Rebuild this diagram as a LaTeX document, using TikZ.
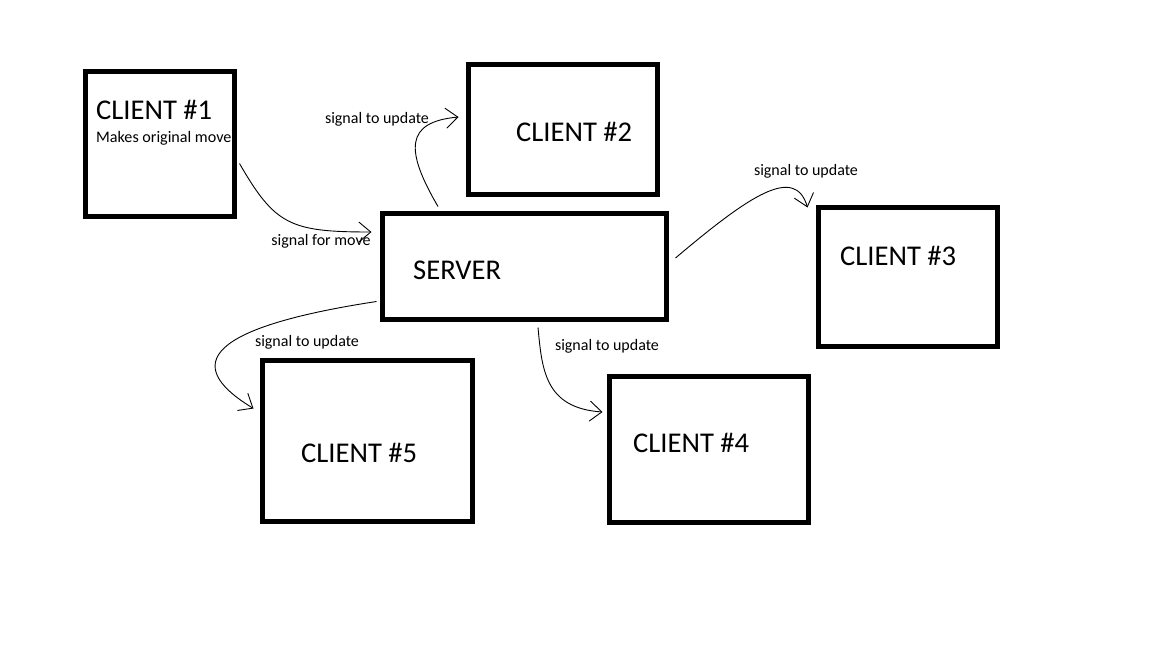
\documentclass[tikz,border=0pt]{standalone}
\usepackage{fontspec}
\setmainfont{Carlito}
\usetikzlibrary{arrows.meta, calc}

\begin{document}
\begin{tikzpicture}[x=1pt, y=-1pt,
        box/.style={draw, line width=5pt, inner sep=0pt},
        big/.style={anchor=base west, inner sep=0pt, font=\fontsize{28.6}{30}\selectfont},
        lbl/.style={inner sep=0pt, font=\fontsize{16}{18}\selectfont},
        sig/.style={-{Straight Barb[length=12pt,width=20pt]}, line width=0.9pt}]
        \useasboundingbox[fill=white] (0,0) rectangle (1152,648);

        \node[box, minimum width=149pt, minimum height=145pt] (c1)  at (159.5,143.5) {};
        \node[box, minimum width=189pt, minimum height=130pt] (c2)  at (562.5,129) {};
        \node[box, minimum width=284pt, minimum height=106pt] (srv) at (524,266) {};
        \node[box, minimum width=179pt, minimum height=139pt] (c3)  at (907.5,276.5) {};
        \node[box, minimum width=199pt, minimum height=146pt] (c4)  at (708.5,449) {};
        \node[box, minimum width=210pt, minimum height=161pt] (c5)  at (367,440.5) {};

        \node[big] (t1)  at (96,119)  {CLIENT \#1};
        \node[anchor=base west, inner sep=0pt, font=\fontsize{16.1}{18}\selectfont] (m1) at (96,142) {Makes original move};
        \node[big] (t2)  at (516,141) {CLIENT \#2};
        \node[big] (ts)  at (413,279) {SERVER};
        \node[big] (t3)  at (840,265) {CLIENT \#3};
        \node[big] (t4)  at (633,452) {CLIENT \#4};
        \node[big] (t5)  at (301,462) {CLIENT \#5};

        \node[lbl] (l1) at (321,241)   {signal for move};
        \node[lbl] (l2) at (377,119)   {signal to update};
        \node[lbl] (l3) at (806,171.5) {signal to update};
        \node[lbl] (l4) at (607,346)   {signal to update};
        \node[lbl] (l5) at (307,342)   {signal to update};

        \draw[sig] ($(c1.east)+(3,20)$) .. controls (275,225) and (290,232) .. ($(srv.west)+(-8,-34)$);
        \draw[sig] ($(srv.north)+(-86,-4)$) .. controls (405,150) and (405,122) .. ($(c2.west)+(-7,-12)$);
        \draw[sig] ($(srv.east)+(7,-8)$) .. controls (750,195) and (795,165) .. ($(c3.north west)+(-8,3)$);
        \draw[sig] ($(srv.south)+(14,6)$) .. controls (542,370) and (545,408) .. ($(c4.west)+(-4,-37)$);
        \draw[sig] ($(srv.south west)+(-3,-20)$) .. controls (190,330) and (190,370) .. ($(c5.west)+(-6,-32)$);
\end{tikzpicture}
\end{document}
